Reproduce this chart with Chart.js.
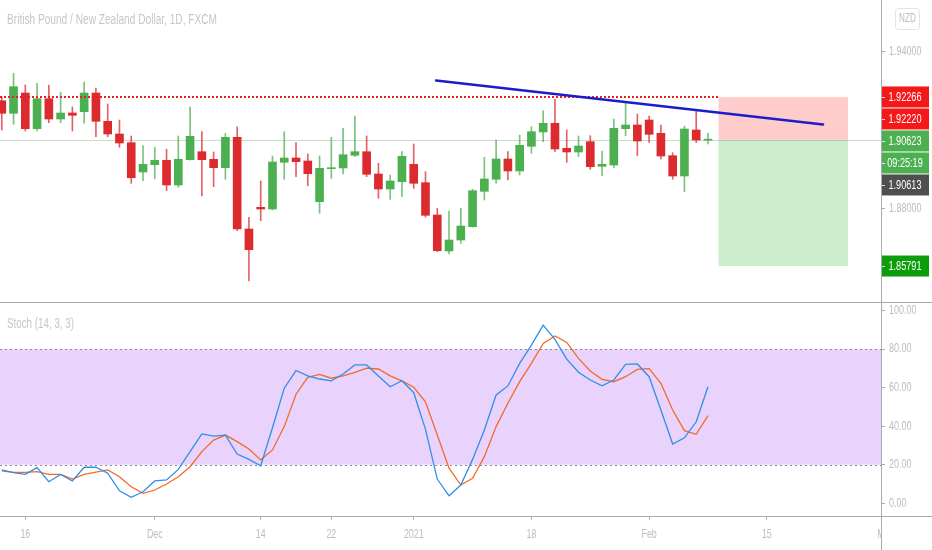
<!DOCTYPE html>
<html>
<head>
<meta charset="utf-8">
<title>GBPNZD 1D</title>
<script src="https://cdn.jsdelivr.net/npm/chart.js@4.4.1/dist/chart.umd.min.js"></script>
<style>
html, body { margin: 0; padding: 0; background: #fff; overflow: hidden; }
#wrap { position: relative; width: 932px; height: 550px; }
canvas { position: absolute; left: 0; }
#price { top: 0; }
#stoch { top: 303px; }
</style>
</head>
<body>
<div id="wrap">
  <canvas id="price" width="932" height="303"></canvas>
  <canvas id="stoch" width="932" height="247"></canvas>
</div>
<script>
// Daily candles, oldest first (bar index 0..60)
const opens = [
  1.92123, 1.91641, 1.92418, 1.91051, 1.92200, 1.91422, 1.91652, 1.91702, 1.92418, 1.91334,
  1.90848, 1.90515, 1.89392, 1.89672, 1.89841, 1.88895, 1.89864, 1.90170, 1.89879, 1.89557,
  1.90721, 1.87209, 1.88040, 1.87975, 1.89764, 1.89929, 1.89814, 1.88255, 1.89519, 1.89546,
  1.90032, 1.90170, 1.89316, 1.88741, 1.89021, 1.89687, 1.88983, 1.87746, 1.86367, 1.86788,
  1.87297, 1.88653, 1.89113, 1.89890, 1.89431, 1.90377, 1.90924, 1.91258, 1.90300, 1.90159,
  1.90553, 1.89611, 1.89661, 1.91051, 1.91193, 1.91384, 1.90875, 1.90017, 1.89239, 1.91001,
  1.90612
];
const highs = [
  1.92276, 1.93173, 1.92725, 1.92790, 1.92725, 1.92445, 1.91882, 1.92839, 1.92610, 1.91997,
  1.91384, 1.90771, 1.90400, 1.90339, 1.90262, 1.90771, 1.91893, 1.90936, 1.90159, 1.90875,
  1.91127, 1.87657, 1.89048, 1.90005, 1.90936, 1.90515, 1.90082, 1.90005, 1.90721, 1.91066,
  1.91537, 1.90771, 1.89726, 1.89278, 1.90170, 1.90465, 1.89404, 1.88002, 1.87899, 1.88002,
  1.88730, 1.89955, 1.90618, 1.90170, 1.90810, 1.91127, 1.91740, 1.92177, 1.91001, 1.90771,
  1.90783, 1.90197, 1.91422, 1.92024, 1.91614, 1.91537, 1.91193, 1.90132, 1.91154, 1.91767,
  1.90875
];
const lows = [
  1.91001, 1.91219, 1.90963, 1.90963, 1.91281, 1.91281, 1.90963, 1.91258, 1.90744, 1.90744,
  1.90339, 1.88960, 1.89059, 1.89136, 1.88676, 1.88806, 1.89850, 1.88473, 1.88830, 1.89113,
  1.87144, 1.85218, 1.87527, 1.87937, 1.89113, 1.89212, 1.88868, 1.87811, 1.89151, 1.89316,
  1.89978, 1.89212, 1.88385, 1.88347, 1.88446, 1.88768, 1.87669, 1.86340, 1.86252, 1.86662,
  1.87280, 1.88320, 1.88960, 1.89086, 1.89278, 1.90109, 1.90553, 1.90170, 1.89764, 1.89978,
  1.89496, 1.89251, 1.89557, 1.90783, 1.90017, 1.90530, 1.89890, 1.89113, 1.88638, 1.90515,
  1.90465
];
const closes = [
  1.91641, 1.92659, 1.91051, 1.92200, 1.91422, 1.91652, 1.91564, 1.92418, 1.91334, 1.90848,
  1.90503, 1.89174, 1.89687, 1.89841, 1.88895, 1.89879, 1.90760, 1.89864, 1.89557, 1.90721,
  1.87209, 1.86417, 1.87975, 1.89775, 1.89929, 1.89787, 1.89327, 1.89534, 1.89557, 1.90055,
  1.90170, 1.89304, 1.88741, 1.89048, 1.89994, 1.88960, 1.87734, 1.86378, 1.86788, 1.87324,
  1.88676, 1.89124, 1.89890, 1.89431, 1.90415, 1.90936, 1.91258, 1.90273, 1.90159, 1.90388,
  1.89595, 1.89687, 1.91066, 1.91193, 1.90580, 1.90836, 1.90005, 1.89239, 1.91039, 1.90618,
  1.90623
];

// Stochastic (14, 3, 3)
const stochK = [
  17.3, 15.9, 15.0, 18.5, 11.2, 15.0, 11.6, 18.7, 18.7, 15.6,
  6.5, 3.1, 6.0, 11.6, 12.1, 17.6, 26.8, 36.0, 34.9, 35.4,
  25.6, 22.8, 19.5, 39.2, 59.7, 68.9, 66.1, 64.5, 63.5, 67.1,
  71.8, 71.8, 66.1, 60.5, 63.6, 57.4, 38.4, 12.6, 3.9, 9.5,
  22.8, 38.0, 56.2, 60.9, 72.6, 82.1, 92.5, 85.1, 74.8, 68.0,
  64.0, 61.0, 64.0, 72.1, 72.3, 65.7, 48.4, 30.8, 34.0, 42.3,
  60.5
];
const stochD = [
  16.8, 16.1, 16.1, 16.4, 15.0, 15.0, 12.6, 15.0, 16.2, 17.3,
  13.8, 8.6, 5.2, 6.9, 10.0, 13.8, 19.0, 26.8, 32.8, 35.4,
  32.0, 28.2, 22.5, 27.7, 39.8, 56.6, 65.4, 66.9, 64.9, 66.1,
  68.0, 70.1, 69.7, 66.1, 63.5, 60.2, 52.7, 35.4, 18.2, 9.5,
  13.0, 24.2, 39.8, 51.9, 63.1, 72.6, 83.0, 86.8, 83.5, 75.2,
  68.7, 64.3, 63.1, 65.7, 69.5, 69.9, 62.3, 48.4, 37.7, 35.8,
  45.5
];

// Time axis: bar index -> label
const tickBars = [2, 13, 22, 28, 35, 45, 55, 65, 74.7];
const tickLabels = ["16", "Dec", "14", "22", "2021", "18", "Feb", "15", "M"];
const priceTicks = [1.88, 1.94];
const stochTicks = [0, 20, 40, 60, 80, 100];

// Drawings: short position, trend line
const entryPrice = 1.90623;
const stopPrice = 1.92266;
const targetPrice = 1.85791;
const positionBars = [60.9, 71.9];
const trendBars = [36.9, 69.78];
const trendPrices = [1.92897, 1.91212];

// Price scale tags
const tagLabels = ["1.92266", "1.92220", "1.90623", "09:25:19", "1.90613", "1.85791"];
const tagValues = [1.92266, 1.92220, 1.90623, 1.90623, 1.90613, 1.85791];

// Styles
const upColor = "#4caf50";
const downColor = "#dc2b2f";
const tagColors = ["#f51818", "#f51818", "#4caf50", "#4caf50", "#4f4f4f", "#0b9d0b"];
const faint = "#b9bcc3";
const frame = "#a7aab2";
const sans = '"Liberation Sans", Arial, sans-serif';
const xMin = -0.15, xMax = 74.7;
const axisWidth = 51;

Chart.defaults.font.family = sans;
Chart.defaults.animation = false;

const bars = opens.map((o, i) => i);
const up = bars.map(i => closes[i] >= opens[i]);

// condensed text: Liberation Sans squeezed horizontally by k
function narrowText(ctx, text, x, y, size, align, k) {
  ctx.font = size + "px " + sans;
  const w = ctx.measureText(text).width * k;
  const left = align === "center" ? x - w / 2 : x;
  ctx.save();
  ctx.textAlign = "left";
  ctx.translate(left, y);
  ctx.scale(k, 1);
  ctx.fillText(text, 0, 0);
  ctx.restore();
}

function fitText(ctx, text, x, y, width) {
  const w = ctx.measureText(text).width;
  ctx.save();
  ctx.textAlign = "left";
  ctx.translate(x, y);
  ctx.scale(width / w, 1);
  ctx.fillText(text, 0, 0);
  ctx.restore();
}

function rightLabels(ctx, scale, values, fmt) {
  ctx.fillStyle = faint;
  ctx.textBaseline = "middle";
  values.forEach(v => {
    narrowText(ctx, fmt(v), scale.left + 8, scale.getPixelForValue(v), 12, "left", 0.75);
  });
}

// Price panel drawings
const pricePlugin = {
  id: "pricePlugin",
  beforeDatasetsDraw(chart) {
    const { ctx, chartArea: a, scales: { x, y } } = chart;
    const x0 = x.getPixelForValue(positionBars[0]);
    const x1 = x.getPixelForValue(positionBars[1]);
    const yStop = y.getPixelForValue(stopPrice);
    const yEntry = y.getPixelForValue(entryPrice);
    const yTarget = y.getPixelForValue(targetPrice);
    ctx.save();
    ctx.fillStyle = "rgba(255,0,0,0.2)";
    ctx.fillRect(x0, yStop, x1 - x0, yEntry - yStop);
    ctx.fillStyle = "rgba(0,170,0,0.2)";
    ctx.fillRect(x0, yEntry, x1 - x0, yTarget - yEntry);
    ctx.strokeStyle = "rgba(110,150,110,0.35)";
    ctx.lineWidth = 1;
    ctx.beginPath();
    ctx.moveTo(a.left, Math.round(yEntry) + 0.5);
    ctx.lineTo(a.right, Math.round(yEntry) + 0.5);
    ctx.stroke();
    ctx.restore();
  },
  afterDatasetsDraw(chart) {
    const { ctx, chartArea: a, scales: { x, y } } = chart;
    ctx.save();
    // stop level, dotted
    ctx.strokeStyle = "#e52222";
    ctx.lineWidth = 2;
    ctx.setLineDash([2, 2]);
    ctx.beginPath();
    const yStop = y.getPixelForValue(stopPrice);
    ctx.moveTo(a.left, yStop);
    ctx.lineTo(x.getPixelForValue(positionBars[0]), yStop);
    ctx.stroke();
    // trend line
    ctx.setLineDash([]);
    ctx.strokeStyle = "#1c1cc8";
    ctx.lineWidth = 2.5;
    ctx.lineCap = "round";
    ctx.beginPath();
    ctx.moveTo(x.getPixelForValue(trendBars[0]), y.getPixelForValue(trendPrices[0]));
    ctx.lineTo(x.getPixelForValue(trendBars[1]), y.getPixelForValue(trendPrices[1]));
    ctx.stroke();
    ctx.restore();
  },
  afterDraw(chart) {
    const { ctx, chartArea: a, scales: { y }, width, height } = chart;
    ctx.save();
    // title
    ctx.fillStyle = "#c4c6cc";
    ctx.font = "14px " + sans;
    ctx.textBaseline = "alphabetic";
    fitText(ctx, "British Pound / New Zealand Dollar, 1D, FXCM", 7, 24, 210);

    // currency box
    ctx.strokeStyle = "#e0e3eb";
    ctx.lineWidth = 1;
    ctx.beginPath();
    ctx.roundRect(895.5, 8.5, 24, 21, 3);
    ctx.stroke();
    ctx.fillStyle = "#b8bbc2";
    ctx.textBaseline = "middle";
    narrowText(ctx, "NZD", 907.5, 19, 12, "center", 0.68);

    rightLabels(ctx, y, priceTicks, v => v.toFixed(5));

    // tags on price scale, pushed down when they overlap
    const h = 21;
    let lastBottom = -Infinity;
    tagLabels.forEach((t, i) => {
      let top = y.getPixelForValue(tagValues[i]) - h / 2;
      if (top < lastBottom + 1) top = lastBottom + 1;
      lastBottom = top + h;
      ctx.fillStyle = tagColors[i];
      ctx.fillRect(a.right + 0.5, top, 47.5, h);
      ctx.strokeStyle = "rgba(255,255,255,0.8)";
      ctx.beginPath();
      ctx.moveTo(a.right + 1, Math.round(top + h / 2) + 0.5);
      ctx.lineTo(a.right + 4, Math.round(top + h / 2) + 0.5);
      ctx.stroke();
      ctx.fillStyle = "#fff";
      ctx.textBaseline = "middle";
      narrowText(ctx, t, a.right + 24, top + h / 2 + 0.5, 12, "center", 0.76);
    });

    // frame
    ctx.strokeStyle = frame;
    ctx.beginPath();
    ctx.moveTo(0, height - 0.5);
    ctx.lineTo(width, height - 0.5);
    ctx.moveTo(a.right + 0.5, 0);
    ctx.lineTo(a.right + 0.5, height);
    ctx.stroke();
    ctx.restore();
  }
};

new Chart(document.getElementById("price"), {
  type: "bar",
  data: {
    datasets: [
      {
        label: "body",
        data: bars.map(i => ({ x: i, y: [opens[i], closes[i]] })),
        backgroundColor: bars.map(i => up[i] ? upColor : downColor),
        barThickness: 8,
        minBarLength: 1,
        grouped: false,
        order: 0
      },
      {
        label: "wick",
        data: bars.map(i => ({ x: i, y: [lows[i], highs[i]] })),
        backgroundColor: bars.map(i => up[i] ? "rgba(76,175,80,0.75)" : "rgba(220,43,47,0.75)"),
        barThickness: 1,
        grouped: false,
        order: 1
      }
    ]
  },
  options: {
    responsive: false,
    events: [],
    layout: { padding: 0 },
    plugins: { legend: { display: false }, tooltip: { enabled: false } },
    scales: {
      x: { type: "linear", min: xMin, max: xMax, offset: false, display: false },
      y: {
        position: "right",
        min: 1.84375,
        max: 1.95980,
        afterFit(scale) { scale.width = axisWidth; scale.paddingTop = 0; scale.paddingBottom = 0; },
        afterBuildTicks(scale) { scale.ticks = priceTicks.map(v => ({ value: v })); },
        border: { display: false },
        grid: { drawOnChartArea: false, drawTicks: true, tickLength: 4, color: frame },
        ticks: { display: false }
      }
    }
  },
  plugins: [pricePlugin]
});

// Stochastic panel drawings
const stochPlugin = {
  id: "stochPlugin",
  beforeDatasetsDraw(chart) {
    const { ctx, chartArea: a, scales: { y } } = chart;
    const y80 = y.getPixelForValue(80), y20 = y.getPixelForValue(20);
    ctx.save();
    ctx.fillStyle = "#e9d3fc";
    ctx.fillRect(a.left, y80, a.right - a.left, y20 - y80);
    ctx.strokeStyle = "#8b8796";
    ctx.lineWidth = 1;
    ctx.setLineDash([2, 3]);
    ctx.beginPath();
    ctx.moveTo(a.left, Math.round(y80) + 0.5);
    ctx.lineTo(a.right, Math.round(y80) + 0.5);
    ctx.moveTo(a.left, Math.round(y20) + 0.5);
    ctx.lineTo(a.right, Math.round(y20) + 0.5);
    ctx.stroke();
    ctx.restore();
  },
  afterDraw(chart) {
    const { ctx, chartArea: a, scales: { x, y }, width, height } = chart;
    ctx.save();
    rightLabels(ctx, y, stochTicks, v => v.toFixed(2));
    // time labels
    ctx.fillStyle = faint;
    ctx.textBaseline = "middle";
    tickBars.forEach((b, i) => {
      narrowText(ctx, tickLabels[i], x.getPixelForValue(b), a.bottom + 19, 13, "center", 0.68);
    });
    ctx.fillStyle = "#fff";
    ctx.fillRect(a.right + 1, a.bottom + 1, width - a.right, height - a.bottom);
    ctx.strokeStyle = frame;
    ctx.lineWidth = 1;
    ctx.beginPath();
    ctx.moveTo(0, Math.round(a.bottom) + 0.5);
    ctx.lineTo(width, Math.round(a.bottom) + 0.5);
    ctx.moveTo(a.right + 0.5, 0);
    ctx.lineTo(a.right + 0.5, height);
    ctx.stroke();
    ctx.fillStyle = "#c4c6cc";
    ctx.font = "14px " + sans;
    ctx.textBaseline = "alphabetic";
    fitText(ctx, "Stoch (14, 3, 3)", 7, 25.3, 67);
    ctx.restore();
  }
};

new Chart(document.getElementById("stoch"), {
  type: "line",
  data: {
    datasets: [
      {
        label: "%K",
        data: bars.map(i => ({ x: i, y: stochK[i] })),
        borderColor: "#2f8fe8",
        borderWidth: 1.3,
        pointRadius: 0,
        tension: 0
      },
      {
        label: "%D",
        data: bars.map(i => ({ x: i, y: stochD[i] })),
        borderColor: "#f26a2a",
        borderWidth: 1.3,
        pointRadius: 0,
        tension: 0
      }
    ]
  },
  options: {
    responsive: false,
    events: [],
    layout: { padding: 0 },
    plugins: { legend: { display: false }, tooltip: { enabled: false } },
    scales: {
      x: {
        type: "linear",
        min: xMin,
        max: xMax,
        afterFit(scale) { scale.height = 34.3; scale.paddingLeft = 0; scale.paddingRight = 0; },
        afterBuildTicks(scale) { scale.ticks = tickBars.map(v => ({ value: v })); },
        border: { display: false },
        grid: { drawOnChartArea: false, drawTicks: true, tickLength: 4, color: frame },
        ticks: { display: false }
      },
      y: {
        position: "right",
        min: -6.43,
        max: 103.94,
        afterFit(scale) { scale.width = axisWidth; scale.paddingTop = 0; scale.paddingBottom = 0; },
        afterBuildTicks(scale) { scale.ticks = stochTicks.map(v => ({ value: v })); },
        border: { display: false },
        grid: { drawOnChartArea: false, drawTicks: true, tickLength: 4, color: frame },
        ticks: { display: false }
      }
    }
  },
  plugins: [stochPlugin]
});
</script>
</body>
</html>
